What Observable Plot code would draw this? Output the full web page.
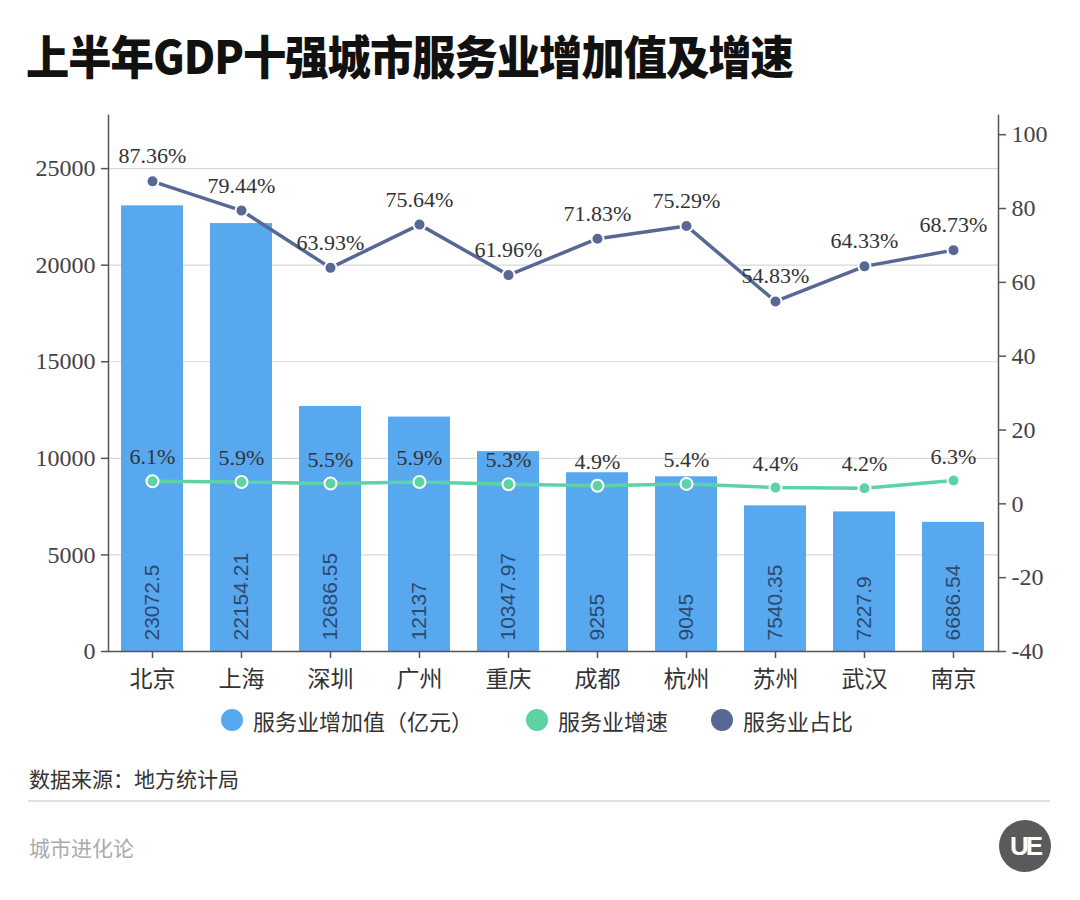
<!DOCTYPE html>
<html><head><meta charset="utf-8">
<script src="https://cdn.jsdelivr.net/npm/d3@7"></script>
<script src="https://cdn.jsdelivr.net/npm/@observablehq/plot@0.6"></script>
<style>
body{margin:0;background:#fff;width:1080px;height:900px;position:relative;overflow:hidden;font-family:"Noto Sans CJK SC",sans-serif}
#title{position:absolute;left:26px;top:28px;font-size:46px;line-height:52px;font-weight:800;color:#111;letter-spacing:-1px;white-space:nowrap;transform:scaleX(0.94);transform-origin:left center}
#chart{position:absolute;left:0;top:95px}
.lg{position:absolute;top:706px;height:28px;display:flex;align-items:center;font-size:22px;color:#333;white-space:nowrap}
.lg i{display:inline-block;width:22px;height:22px;border-radius:50%;margin-right:10px}
#source{position:absolute;left:29px;top:763px;font-size:21px;color:#333}
#sep{position:absolute;left:28px;top:800px;width:1022px;height:2px;background:#e0e0e0}
#brand{position:absolute;left:29px;top:832px;font-size:21px;color:#aaa}
#logo{position:absolute;left:999px;top:820px;width:52px;height:52px;border-radius:50%;background:#5a5a5a;color:#fff;font:bold 26px "Liberation Sans",sans-serif;display:flex;align-items:center;justify-content:center;letter-spacing:-3px}
</style></head>
<body>
<div id="title">上半年GDP十强城市服务业增加值及增速</div>
<div id="chart"></div>
<div class="lg" style="left:221px"><i style="background:#58a8f0"></i>服务业增加值（亿元）</div>
<div class="lg" style="left:526px"><i style="background:#5dd3a5"></i>服务业增速</div>
<div class="lg" style="left:711px"><i style="background:#566893"></i>服务业占比</div>
<div id="source">数据来源：地方统计局</div>
<div id="sep"></div>
<div id="brand">城市进化论</div>
<div id="logo">UE</div>
<script>
const cities = ["北京","上海","深圳","广州","重庆","成都","杭州","苏州","武汉","南京"];
const added = [23072.5,22154.21,12686.55,12137,10347.97,9255,9045,7540.35,7227.9,6686.54];
const growth = [6.1,5.9,5.5,5.9,5.3,4.9,5.4,4.4,4.2,6.3];
const share = [87.36,79.44,63.93,75.64,61.96,71.83,75.29,54.83,64.33,68.73];
const leftTicks = [0,5000,10000,15000,20000,25000];
const rightTicks = [-40,-20,0,20,40,60,80,100];

const yMax = 27750, rMin = -40, rMax = 105.2;
const toL = v => (v - rMin) / (rMax - rMin) * yMax;
const fromL = v => String(Math.round(v / yMax * (rMax - rMin) + rMin));
const data = cities.map((c, i) => ({city: c, added: added[i], growth: growth[i], share: share[i]}));
const serif = "Liberation Serif, serif";
const axisColor = "#555";

const plot = Plot.plot({
  width: 1080, height: 606,
  marginLeft: 108, marginRight: 82, marginTop: 20, marginBottom: 50,
  x: {domain: cities, paddingInner: 0.3, paddingOuter: 0.15, label: null},
  y: {domain: [0, yMax], label: null},
  style: {background: "transparent", overflow: "visible"},
  marks: [
    Plot.gridY(leftTicks.filter(d => d > 0), {stroke: "#d9d9d9", strokeOpacity: 1, strokeWidth: 1.2}),
    Plot.barY(data, {x: "city", y: "added", fill: "#58a8f0"}),
    Plot.text(data, {x: "city", y: 0, text: d => String(d.added), rotate: -90, textAnchor: "start", lineAnchor: "middle", dy: -11, fill: "#2c4a6e", fontSize: 21, fontFamily: "Liberation Sans, sans-serif"}),
    Plot.line(data, {x: "city", y: d => toL(d.growth), stroke: "#5dd3a5", strokeWidth: 3.5}),
    Plot.dot(data, {x: "city", y: d => toL(d.growth), r: 6, fill: "#5dd3a5", stroke: "white", strokeWidth: 2}),
    Plot.text(data, {x: "city", y: d => toL(d.growth), text: d => d.growth.toFixed(1) + "%", dy: -24, fill: "#333", fontSize: 22, fontFamily: serif}),
    Plot.line(data, {x: "city", y: d => toL(d.share), stroke: "#566893", strokeWidth: 3.5}),
    Plot.dot(data, {x: "city", y: d => toL(d.share), r: 6, fill: "#566893", stroke: "white", strokeWidth: 2}),
    Plot.text(data, {x: "city", y: d => toL(d.share), text: d => d.share.toFixed(2) + "%", dy: -25, fill: "#333", fontSize: 22, fontFamily: serif}),
    Plot.frame({anchor: "left", stroke: axisColor, strokeWidth: 1.5}),
    Plot.frame({anchor: "right", stroke: axisColor, strokeWidth: 1.5}),
    Plot.frame({anchor: "bottom", stroke: axisColor, strokeWidth: 1.5}),
    Plot.axisY(leftTicks, {anchor: "left", tickSize: 7, tickPadding: 6, stroke: axisColor, strokeWidth: 1.5, fill: "#444", fontSize: 24, fontFamily: serif, tickFormat: d => String(d), label: null}),
    Plot.axisY(rightTicks.map(toL), {anchor: "right", tickSize: 7, tickPadding: 6, stroke: axisColor, strokeWidth: 1.5, fill: "#444", fontSize: 24, fontFamily: serif, tickFormat: fromL, label: null}),
    Plot.axisX({anchor: "bottom", tickSize: 7, tickPadding: 12, stroke: axisColor, strokeWidth: 1.5, fill: "#333", fontSize: 23, fontFamily: "Noto Sans CJK SC, sans-serif", label: null})
  ]
});
document.getElementById("chart").appendChild(plot);
</script>
</body></html>
